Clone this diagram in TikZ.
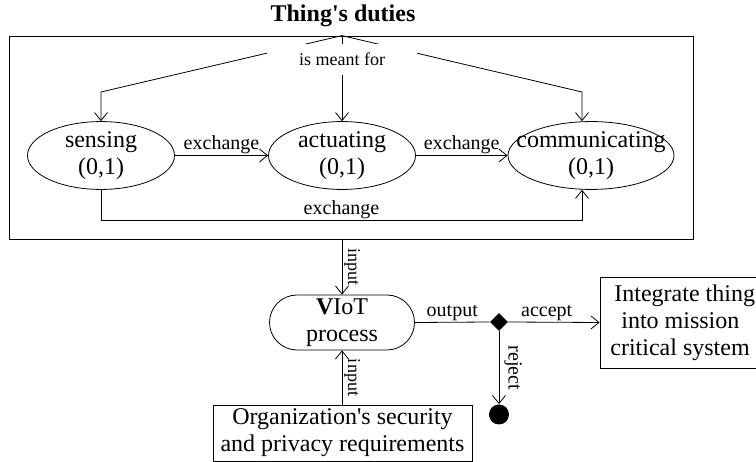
\documentclass[tikz,border=0pt]{standalone}
\usepackage{fontspec}
\setmainfont{Liberation Serif}[Ligatures=TeXOff]
\usetikzlibrary{shapes.geometric,shapes.misc,arrows.meta}
\begin{document}
\begin{tikzpicture}[x=1pt,y=-1pt,
  line width=0.8pt,
  arr/.style={-{Straight Barb[length=8pt,width=13pt]}},
  big/.style={font=\fontsize{24}{27}\selectfont},
  duty/.style={ellipse,draw,minimum width=147pt,minimum height=55pt,inner sep=0pt,align=center,big},
  lbl/.style={font=\fontsize{20}{22}\selectfont,inner sep=1pt},
  vlbl/.style={font=\fontsize{18}{20}\selectfont,inner sep=2pt,rotate=-90,anchor=south},
  boxnode/.style={draw,rectangle,inner sep=0pt,align=center,big}
]
\useasboundingbox (0,0) rectangle (756,462);

\node[font=\bfseries\fontsize{24}{27}\selectfont] (title) at (343,16) {Thing's duties};
\node[draw,rectangle,minimum width=684pt,minimum height=203pt,inner sep=0pt] (frame) at (351,137.5) {};

\node[duty] (sens) at (101,155.5) {\makebox[0pt]{sensing}\\\makebox[0pt]{(0,1)}};
\node[duty] (act) at (342,155.5) {\makebox[0pt]{actuating}\\\makebox[0pt]{(0,1)}};
\node[duty,minimum width=166pt] (comm) at (591,155.5) {\makebox[0pt]{communicating}\\\makebox[0pt]{(0,1)}};

\coordinate (apex) at (frame.north -| act.north);
\coordinate (bl) at (101,92);
\coordinate (br) at (582,92);
\coordinate (cb) at (582,220);

\draw[arr] (apex) -- (bl) -- (sens.north);
\draw[arr] (apex) -- (br) -- (br |- comm.north);
\draw[arr] (apex) -- (act.north);
\node[fill=white,minimum width=150pt,minimum height=31pt,inner sep=0pt,font=\fontsize{18}{20}\selectfont] (meant) at (342,59.5) {is meant for};

\draw[arr] (sens.east) -- node[lbl,above] (ex1) {exchange} (act.west);
\draw[arr] (act.east) -- node[lbl,above] (ex2) {exchange} (comm.west);
\draw[arr] (sens.south) |- node[lbl,above,pos=0.75] (ex3) {exchange} (cb) -- (cb |- comm.south);

\node[rounded rectangle,draw,minimum width=145pt,minimum height=55pt,inner sep=0pt,align=center,big] (viot) at (342,322.5) {\textbf{V}IoT\\process};
\node[boxnode,minimum width=259pt,minimum height=56pt] (org) at (342.5,433) {Organization's security\\and privacy requirements};
\node[diamond,fill=black,minimum width=18pt,minimum height=18pt,inner sep=0pt] (dec) at (499,322) {};
\node[draw,rectangle,minimum width=180pt,minimum height=91pt,inner sep=0pt] (integ) at (690,322.5) {};
\node[big,align=left,anchor=west,inner sep=0pt] (integt) at (610,322.5) {\hspace{4pt}Integrate thing\\\hspace{11pt}into mission\\critical system};
\node[circle,fill=black,minimum size=20pt,inner sep=0pt] (endc) at (499,414.5) {};

\draw[arr] (frame.south -| viot.north) -- node[vlbl,midway] (in1) {input} (viot.north);
\draw[arr] (org.north -| viot.south) -- node[vlbl,midway] (in2) {input} (viot.south);
\draw (viot.east) -- node[lbl,above] (outl) {output} (dec.west);
\draw[arr] (dec.east) -- node[lbl,above,pos=0.42] (accl) {accept} (integ.west);
\draw[arr] (dec.south) -- node[vlbl,font=\fontsize{20}{22}\selectfont,inner sep=5pt,midway] (rejl) {reject} (endc.north);
\end{tikzpicture}
\end{document}
